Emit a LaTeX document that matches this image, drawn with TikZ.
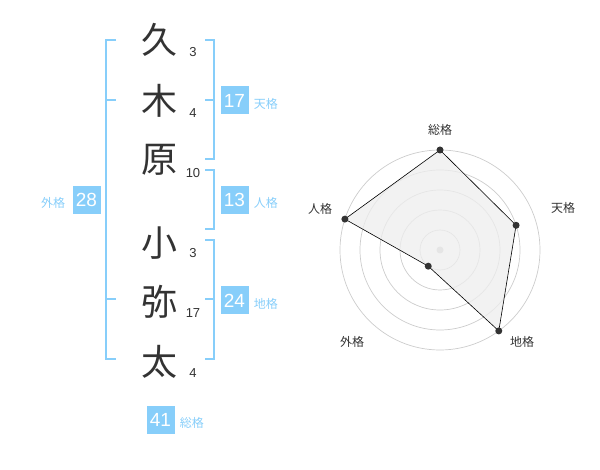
\documentclass[tikz,border=0pt]{standalone}
\usepackage{fontspec}
\setmainfont{Liberation Sans}
\newfontfamily\cjk{Noto Sans CJK JP}
\usetikzlibrary{positioning}
\definecolor{sky}{HTML}{87CEFA}
\definecolor{ink}{HTML}{333333}
\definecolor{ringgray}{HTML}{CCCCCC}
\definecolor{shade}{HTML}{EEEEEE}
\tikzset{
  kanji/.style={text=ink,font=\cjk\fontsize{36}{36}\selectfont,inner sep=0pt},
  strokes/.style={text=ink,font=\fontsize{13}{13}\selectfont,inner sep=0pt},
  bracket/.style={draw=sky,line width=2pt},
  scorebox/.style={fill=sky,text=white,minimum size=28pt,inner sep=0pt,font=\fontsize{19}{19}\selectfont},
  scorelabel/.style={text=sky,font=\cjk\fontsize{12}{12}\selectfont,inner sep=0pt},
  ring/.style={draw=ringgray,line width=0.7pt},
  radarlabel/.style={text=ink,font=\cjk\fontsize{12}{12}\selectfont,inner sep=0pt},
  vertex/.style={circle,fill=ink,inner sep=0pt,minimum size=7pt}
}
\begin{document}
\begin{tikzpicture}[x=1pt,y=-1pt]
\useasboundingbox (0,0) rectangle (600,470);
% name
\node[kanji] (k1) at (159,40) {久};
\node[kanji] (k2) at (159,101) {木};
\node[kanji] (k3) at (159,160) {原};
\node[kanji] (k4) at (159,243) {小};
\node[kanji] (k5) at (159,302) {弥};
\node[kanji] (k6) at (159,362) {太};
\node[strokes] (n1) at (193,52) {3};
\node[strokes] (n2) at (193,113) {4};
\node[strokes] (n3) at (193,173) {10};
\node[strokes] (n4) at (193,253) {3};
\node[strokes] (n5) at (193,313) {17};
\node[strokes] (n6) at (193,373) {4};
% brackets
\draw[bracket] (116,40) -- (106,40) -- (106,359) -- (116,359);
\foreach\y in {100,299}
{
\draw[bracket] (106,\y) -- (116,\y);
}
\draw[bracket] (205,40) -- (214,40) -- (214,159) -- (205,159);
\draw[bracket] (205,170) -- (214,170) -- (214,229) -- (205,229);
\draw[bracket] (205,240) -- (214,240) -- (214,359) -- (205,359);
\foreach\y in {100,299}
{
\draw[bracket] (205,\y) -- (214,\y);
}
% scores
\node[scorebox] (gai) at (86.5,200) {28};
\node[scorebox] (ten) at (234.5,100.5) {17};
\node[scorebox] (jin) at (234.5,200) {13};
\node[scorebox] (chi) at (234.5,300.5) {24};
\node[scorebox] (sou) at (160.5,419.5) {41};
\node[scorelabel,left=7pt of gai,yshift=-3pt] (gailbl) {外格};
\node[scorelabel,right=5pt of ten,yshift=-3pt] (tenlbl) {天格};
\node[scorelabel,right=5pt of jin,yshift=-3pt] (jinlbl) {人格};
\node[scorelabel,right=5pt of chi,yshift=-3pt] (chilbl) {地格};
\node[scorelabel,right=5pt of sou,yshift=-3pt] (soulbl) {総格};
% radar
\begin{scope}[shift={(440,250)},y=1pt]
\foreach\r in {20,40,60,80,100}
{
\draw[ring] (0,0) circle (\r);
}
\fill[ringgray] (0,0) circle (3.5);
\coordinate (psou) at (90:100);
\coordinate (pten) at (18:80);
\coordinate (pchi) at (-54:100);
\coordinate (pgai) at (-126:20);
\coordinate (pjin) at (162:100);
\filldraw[fill=shade,fill opacity=0.75,draw=black,line width=0.6pt]
  (psou) -- (pten) -- (pchi) -- (pgai) -- (pjin) -- cycle;
\foreach\p in {psou,pten,pchi,pgai,pjin}
{
\node[vertex] at (\p) {};
}
\node[radarlabel] (rsou) at (0,120) {総格};
\node[radarlabel] (rten) at (123,42) {天格};
\node[radarlabel] (rchi) at (82,-92) {地格};
\node[radarlabel] (rgai) at (-88,-92) {外格};
\node[radarlabel] (rjin) at (-120,41) {人格};
\end{scope}
\end{tikzpicture}
\end{document}
